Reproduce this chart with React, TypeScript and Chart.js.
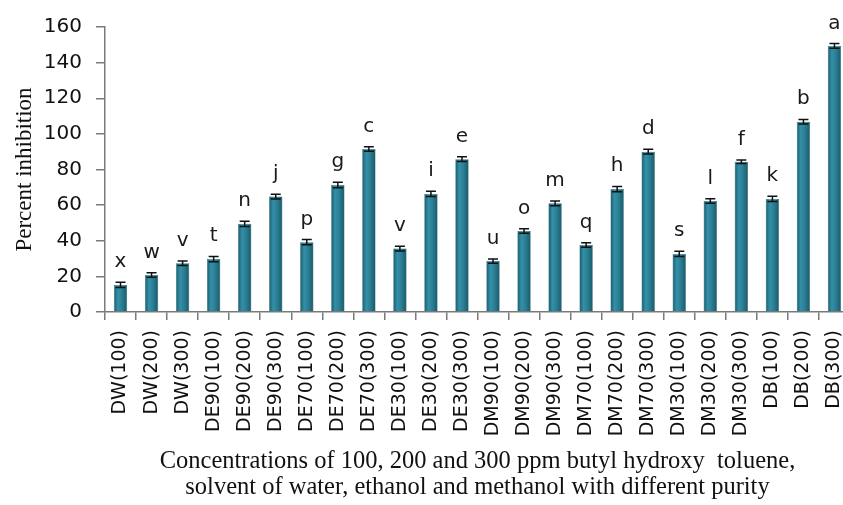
import React, { useEffect, useRef } from "react";
import { Chart, registerables } from "chart.js";

Chart.register(...registerables);

const categories = [
  "DW(100)", "DW(200)", "DW(300)",
  "DE90(100)", "DE90(200)", "DE90(300)",
  "DE70(100)", "DE70(200)", "DE70(300)",
  "DE30(100)", "DE30(200)", "DE30(300)",
  "DM90(100)", "DM90(200)", "DM90(300)",
  "DM70(100)", "DM70(200)", "DM70(300)",
  "DM30(100)", "DM30(200)", "DM30(300)",
  "DB(100)", "DB(200)", "DB(300)",
];
const inhibition = [
  15.2, 20.8, 27.4, 29.7, 49.5, 64.8,
  39.2, 71.3, 91.5, 35.6, 66.3, 85.8,
  28.6, 45.5, 61.0, 37.6, 69.0, 90.0,
  32.6, 62.3, 84.3, 63.5, 106.8, 149.4,
];
const errors = [
  1.5, 1.3, 1.3, 1.5, 1.5, 1.3,
  1.5, 1.5, 1.3, 1.3, 1.5, 1.3,
  1.2, 1.3, 1.3, 1.3, 1.5, 1.3,
  1.5, 1.3, 1.0, 1.5, 1.3, 1.3,
];
const groupLetters = [
  "x", "w", "v", "t", "n", "j",
  "p", "g", "c", "v", "i", "e",
  "u", "o", "m", "q", "h", "d",
  "s", "l", "f", "k", "b", "a",
];
const yTicks = [0, 20, 40, 60, 80, 100, 120, 140, 160];
const yTitle = "Percent inhibition";
const xTitle = [
  "Concentrations of 100, 200 and 300 ppm butyl hydroxy  toluene,",
  "solvent of water, ethanol and methanol with different purity",
];

const errorLetterPlugin = {
  id: "errorLetters",
  afterDatasetsDraw(chart: any) {
    const { ctx, scales } = chart;
    const xs = scales.x;
    const ys = scales.y;
    ctx.save();
    ctx.strokeStyle = "#111";
    ctx.lineWidth = 1.5;
    inhibition.forEach((v, i) => {
      const x = xs.getPixelForValue(i);
      const yTop = ys.getPixelForValue(v + errors[i]);
      const yBot = ys.getPixelForValue(v - errors[i]);
      ctx.beginPath();
      ctx.moveTo(x, yTop);
      ctx.lineTo(x, yBot);
      ctx.moveTo(x - 5, yTop);
      ctx.lineTo(x + 5, yTop);
      ctx.moveTo(x - 5, yBot);
      ctx.lineTo(x + 5, yBot);
      ctx.stroke();
    });
    ctx.fillStyle = "#1a1a1a";
    ctx.font = "20px 'DejaVu Sans'";
    ctx.textAlign = "center";
    ctx.textBaseline = "alphabetic";
    groupLetters.forEach((t, i) => {
      const x = xs.getPixelForValue(i);
      const yTop = ys.getPixelForValue(inhibition[i] + errors[i]);
      ctx.fillText(t, x, yTop - 15);
    });
    ctx.restore();
  },
};

export default function App() {
  const ref = useRef<HTMLCanvasElement | null>(null);
  useEffect(() => {
    document.body.style.overflow = "hidden";
    const canvas = ref.current!;
    const chart = new Chart(canvas, {
      type: "bar",
      data: {
        labels: categories,
        datasets: [
          {
            data: inhibition,
            backgroundColor: (c: any) => {
              const ch = c.chart;
              const xs = ch.scales && ch.scales.x;
              if (!xs || c.dataIndex === undefined) return "#2a7d91";
              const x = xs.getPixelForValue(c.dataIndex);
              if (!Number.isFinite(x)) return "#2a7d91";
              const g = ch.ctx.createLinearGradient(x - 6.5, 0, x + 6.5, 0);
              g.addColorStop(0, "#1c5d6e");
              g.addColorStop(0.3, "#3390a8");
              g.addColorStop(0.6, "#2b7f94");
              g.addColorStop(1, "#1b5a6a");
              return g;
            },
            borderColor: "#1d5d6c",
            borderWidth: 0.5,
            barPercentage: 0.43,
            categoryPercentage: 1,
          },
        ],
      },
      options: {
        animation: false,
        responsive: false,
        maintainAspectRatio: false,
        layout: { padding: { top: 27, right: 10, left: 0, bottom: 0 } },
        plugins: { legend: { display: false }, tooltip: { enabled: false } },
        scales: {
          x: {
            afterFit: (s: any) => {
              s.height = 193;
              s.paddingLeft = 0;
              s.paddingRight = 0;
            },
            border: { display: true, color: "#7a7a7a", width: 1.5 },
            grid: {
              display: true,
              drawOnChartArea: false,
              drawTicks: true,
              tickLength: 8,
              color: "#7a7a7a",
              lineWidth: 1.5,
              offset: true,
            },
            ticks: {
              autoSkip: false,
              maxRotation: 90,
              minRotation: 90,
              padding: 10,
              color: "#111",
              font: { family: "'DejaVu Sans'", size: 19 },
            },
            title: {
              display: true,
              text: xTitle,
              color: "#111",
              font: { family: "'Liberation Serif'", size: 24.5, lineHeight: 1.06 },
              padding: { top: 0, bottom: 4 },
            },
          },
          y: {
            min: 0,
            max: 160,
            afterFit: (s: any) => {
              s.width = 105;
            },
            afterBuildTicks: (s: any) => {
              s.ticks = yTicks.map((v) => ({ value: v }));
            },
            border: { display: true, color: "#7a7a7a", width: 1.5 },
            grid: {
              display: true,
              drawOnChartArea: false,
              drawTicks: true,
              tickLength: 9,
              color: "#7a7a7a",
              lineWidth: 1.5,
            },
            ticks: {
              padding: 14,
              color: "#111",
              font: { family: "'DejaVu Sans'", size: 20 },
            },
            title: {
              display: true,
              text: yTitle,
              color: "#111",
              font: { family: "'Liberation Serif'", size: 23, lineHeight: 1.2 },
              padding: { top: 11, bottom: 0 },
            },
          },
        },
      },
      plugins: [errorLetterPlugin],
    });
    return () => chart.destroy();
  }, []);
  return (
    <div style={{ position: "fixed", left: 0, top: 0, width: 860, height: 505, background: "#fff" }}>
      <canvas ref={ref} width={860} height={505} style={{ width: 860, height: 505 }} />
    </div>
  );
}
